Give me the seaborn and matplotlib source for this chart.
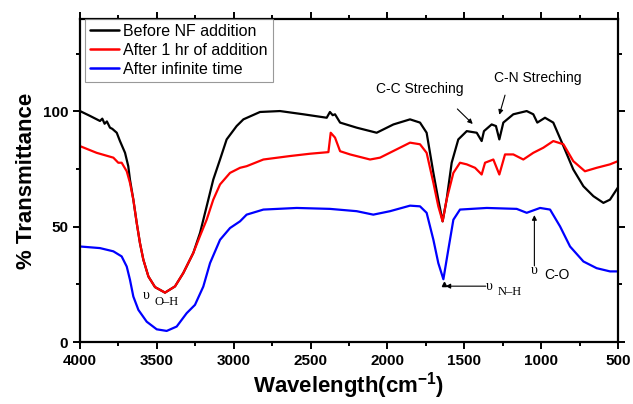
import numpy as np
import pandas as pd
import matplotlib
matplotlib.use("Agg")
import matplotlib.pyplot as plt
import seaborn as sns

# ------------------------ #
# Data
# ------------------------ #
wn_before = [4000, 3935, 3870, 3855, 3840, 3825, 3805, 3790, 3761, 3740, 3707, 3686,
             3675, 3653, 3631, 3610, 3588, 3555, 3512, 3447, 3382, 3328, 3263, 3219,
             3176, 3133, 3089, 3046, 2981, 2937, 2829, 2699, 2547, 2395, 2374, 2356,
             2341, 2308, 2200, 2070, 1961, 1853, 1788, 1745, 1701, 1669, 1641, 1615,
             1582, 1539, 1484, 1419, 1387, 1372, 1322, 1294, 1272, 1246, 1181, 1094,
             1051, 1025, 975, 921, 855, 791, 725, 660, 595, 552, 509, 500]
t_before = [100.1, 98, 95.8, 96.8, 94.6, 95.6, 92.9, 92.4, 90.7, 87.1, 82, 76.2,
            70.4, 61.7, 51.6, 42.9, 35.7, 28.4, 23.8, 21.4, 24.1, 29.9, 38.6, 47.3,
            58.8, 70.4, 79.1, 87.8, 93.6, 96.5, 99.7, 100.1, 98.7, 97.2, 99.7, 98.3,
            98.7, 95.1, 92.9, 90.7, 94.3, 96.5, 95.1, 90.7, 73.3, 61.7, 52.3, 61.7,
            77.7, 87.8, 91.4, 90.7, 87.1, 91.4, 94.3, 93.6, 87.8, 95.1, 98.7, 100.1,
            98.7, 95.1, 97.2, 95.1, 84.9, 74.8, 67.5, 63.2, 60.3, 61.7, 66.1, 67]

wn_1hr = [4000, 3892, 3783, 3751, 3729, 3696, 3675, 3653, 3631, 3610, 3588, 3555,
          3512, 3447, 3382, 3328, 3263, 3219, 3176, 3133, 3089, 3024, 2959, 2916,
          2807, 2634, 2504, 2384, 2369, 2341, 2308, 2243, 2113, 2048, 1940, 1853,
          1788, 1745, 1701, 1669, 1641, 1615, 1571, 1528, 1484, 1430, 1387, 1365,
          1311, 1272, 1235, 1181, 1116, 1051, 986, 921, 855, 791, 715, 639,
          552, 500]
t_1hr = [84.9, 82, 79.9, 77.7, 77.7, 74, 69, 61.7, 51.6, 42.9, 35.7, 28.4,
         23.8, 21.4, 24.1, 29.9, 38.6, 46, 53, 61.7, 68.3, 73.3, 75.5, 76.2,
         79.1, 80.6, 81.6, 82.3, 90.7, 88.6, 82.7, 81.3, 79.1, 79.9, 83.5, 86.4,
         85.7, 82, 69, 58.8, 52.3, 61.7, 73.3, 77.7, 77, 75.5, 72.6, 77.7,
         79.1, 72.6, 81.3, 81.3, 79.1, 82, 84.2, 87.1, 85.7, 78.4, 74, 75.5,
         77, 78.4]

wn_inf = [4000, 3870, 3783, 3729, 3696, 3675, 3653, 3620, 3566, 3501, 3436, 3371,
          3306, 3252, 3198, 3154, 3089, 3024, 2959, 2916, 2807, 2590, 2374, 2200,
          2092, 1983, 1853, 1788, 1745, 1701, 1669, 1636, 1604, 1571, 1528, 1354,
          1159, 1094, 1007, 942, 877, 812, 725, 639, 552, 500]
t_inf = [41.4, 40.7, 39.3, 37.1, 32.7, 27, 19.7, 13.9, 8.8, 5.5, 4.8, 6.7,
         12.5, 16.1, 24, 34.2, 44.3, 49.4, 52.3, 55.2, 57.4, 58.1, 57.7, 56.7,
         55.2, 56.7, 59.1, 58.8, 56, 44.3, 34.2, 27.2, 40, 53, 57.4, 58.1,
         57.7, 56, 58.1, 57.4, 50.1, 41.4, 34.9, 32, 30.6, 30.6]

labels = ["Before NF addition", "After 1 hr of addition", "After infinite time"]
colors = ["black", "red", "blue"]

df = pd.concat([
    pd.DataFrame({"wn": wn_before, "T": t_before, "sample": labels[0]}),
    pd.DataFrame({"wn": wn_1hr, "T": t_1hr, "sample": labels[1]}),
    pd.DataFrame({"wn": wn_inf, "T": t_inf, "sample": labels[2]}),
])

# ------------------------ #
# Plot
# ------------------------ #
sns.set_theme(style="ticks")
plt.rcParams["font.family"] = ["Liberation Sans", "DejaVu Sans"]
plt.rcParams["text.color"] = "black"
plt.rcParams["axes.labelcolor"] = "black"
plt.rcParams["xtick.color"] = "black"
plt.rcParams["ytick.color"] = "black"
plt.rcParams["mathtext.fontset"] = "custom"
plt.rcParams["mathtext.bf"] = "Liberation Sans:bold"
plt.rcParams["mathtext.default"] = "bf"

fig = plt.figure(figsize=(6.33, 4.04), dpi=100)
ax = fig.add_axes([80 / 633, 62 / 404, 538 / 633, 323 / 404])

sns.lineplot(data=df, x="wn", y="T", hue="sample", palette=colors,
             estimator=None, sort=True, linewidth=1.6, ax=ax)

ax.set_xlim(4000, 500)
ax.set_ylim(0, 140)
ax.set_xticks(np.arange(4000, 499, -500))
ax.set_xticks(np.arange(3750, 500, -500), minor=True)
ax.set_yticks([0, 50, 100])
ax.set_yticks([25, 75, 125], minor=True)

for s in ax.spines.values():
    s.set_linewidth(1.6)
    s.set_color("black")
ax.tick_params(which="both", direction="out", top=True, right=True,
               width=1.4, colors="black", labelsize=11)
ax.tick_params(which="major", length=5)
ax.tick_params(which="minor", length=3)
for lab in ax.get_xticklabels() + ax.get_yticklabels():
    lab.set_fontweight("bold")

ax.set_xlabel("Wavelength(cm$^{-1}$)", fontsize=16, fontweight="bold", labelpad=2)
ax.set_ylabel("% Transmittance", fontsize=16, fontweight="bold", labelpad=4)

leg = ax.legend(loc="upper left", fontsize=11.5, frameon=True, fancybox=False,
                handlelength=1.8, handletextpad=0.3, borderpad=0.3,
                labelspacing=0.25, borderaxespad=0,
                bbox_to_anchor=(5 / 538, 1.0))
leg.get_frame().set_edgecolor("gray")
leg.get_frame().set_linewidth(0.8)
for line in leg.get_lines():
    line.set_linewidth(1.8)

# ------------------------ #
# Annotations
# ------------------------ #
serif = ["Liberation Serif", "DejaVu Serif"]
arrow = dict(arrowstyle="-|>", color="black", lw=0.8, mutation_scale=7,
             shrinkA=0, shrinkB=0)

ax.text(3570, 20, "\u03c5", family=serif, fontsize=10, ha="center", va="center")
ax.text(3440, 17.5, "O\u2013H", family=serif, fontsize=9, ha="center", va="center")

ax.annotate("", xy=(1622, 24.2), xytext=(1360, 24.2), arrowprops=arrow)
ax.plot([1634], [25], marker="^", color="black", markersize=3)
ax.text(1335, 24, "\u03c5", family=serif, fontsize=10, ha="center", va="center")
ax.text(1205, 21.5, "N\u2013H", family=serif, fontsize=9, ha="center", va="center")

ax.annotate("", xy=(1044, 55), xytext=(1044, 33), arrowprops=arrow)
ax.text(1048, 31, "\u03c5", family=serif, fontsize=10, ha="center", va="center")
ax.text(900, 29, "C-O", fontsize=10, ha="center", va="center")

ax.text(1788, 109.5, "C-C Streching", fontsize=10, ha="center", va="center")
ax.annotate("", xy=(1445, 94.5), xytext=(1545, 101), arrowprops=arrow)
ax.text(1020, 114.5, "C-N Streching", fontsize=10, ha="center", va="center")
ax.annotate("", xy=(1272, 98.5), xytext=(1235, 107), arrowprops=arrow)

fig.savefig("out.png", dpi=100)
